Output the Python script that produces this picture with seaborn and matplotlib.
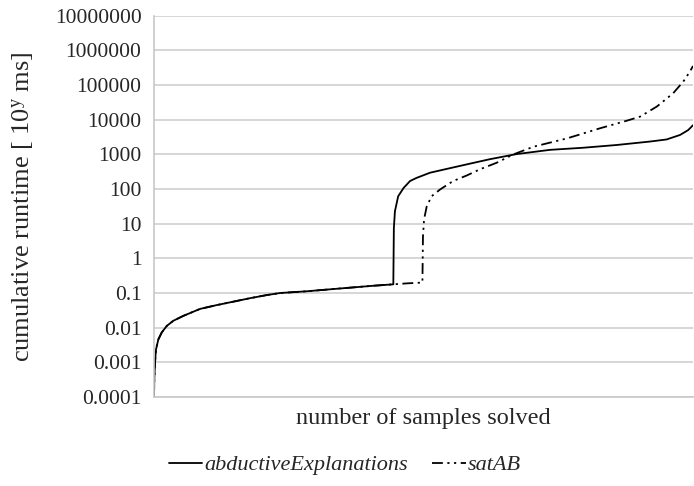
import numpy as np
import pandas as pd
import matplotlib
matplotlib.use("Agg")
import matplotlib.pyplot as plt
from matplotlib.lines import Line2D
import seaborn as sns

# ---- data ----
common_samples = [0, 0.56, 1.86, 3.7, 8.0, 14.3, 23.6, 35.8, 54.4, 85.3, 116, 147,
                  178, 209, 234, 283, 345, 407, 444]
common_runtime = [0.0001, 0.000316, 0.000977, 0.00234, 0.00457, 0.00724, 0.0112,
                  0.0158, 0.0219, 0.0347, 0.0447, 0.0562, 0.0708, 0.0871, 0.1,
                  0.112, 0.135, 0.162, 0.178]

abd_samples = common_samples + [445, 447, 453, 463, 475, 487, 512, 543, 580, 623,
                                673, 735, 796, 858, 920, 951, 976, 991, 1000]
abd_runtime = common_runtime + [7.41, 22.9, 61.7, 107, 170, 209, 295, 380, 513, 724,
                                1020, 1350, 1550, 1860, 2340, 2690, 3630, 5010, 6920]

sat_samples = common_samples + [470, 498, 499, 501, 506, 515, 531, 555, 580, 605,
                                636, 667, 704, 766, 827, 877, 902, 933, 963, 982,
                                994, 1000]
sat_runtime = common_runtime + [0.19, 0.2, 4.27, 13.2, 31.6, 61.7, 97.7, 170, 245,
                                372, 575, 1000, 1660, 2880, 5620, 9330, 12300, 24000,
                                57500, 126000, 240000, 355000]

series_names = ["abductiveExplanations", "satAB"]
y_ticks = [1e-4, 1e-3, 1e-2, 1e-1, 1, 10, 100, 1000, 1e4, 1e5, 1e6, 1e7]
y_tick_labels = ["0.0001", "0.001", "0.01", "0.1", "1", "10", "100", "1000",
                 "10000", "100000", "1000000", "10000000"]

df = pd.concat([
    pd.DataFrame({"sample": abd_samples, "runtime": abd_runtime, "solver": series_names[0]}),
    pd.DataFrame({"sample": sat_samples, "runtime": sat_runtime, "solver": series_names[1]}),
], ignore_index=True)

# ---- style ----
sns.set_style("white")
plt.rcParams["font.family"] = ["Liberation Serif", "DejaVu Serif"]
plt.rcParams["mathtext.fontset"] = "custom"
plt.rcParams["mathtext.rm"] = "Liberation Serif"
plt.rcParams["mathtext.it"] = "Liberation Serif:italic"

fig = plt.figure(figsize=(6.94, 4.86), dpi=100)
ax = fig.add_axes([154 / 694, 1 - 397 / 486, (693 - 154) / 694, (397 - 15.7) / 486])

dash_sat = (6, 2.5, 1.2, 2.5, 1.2, 2.5)
sns.lineplot(data=df, x="sample", y="runtime", hue="solver", style="solver",
             palette={series_names[0]: "black", series_names[1]: "black"},
             dashes={series_names[0]: "", series_names[1]: dash_sat},
             linewidth=1.3, estimator=None, sort=False, legend=False, ax=ax)

ax.set_yscale("log")
ax.set_ylim(1e-4, 1e7)
ax.set_xlim(0, 1000)
ax.yaxis.set_major_locator(matplotlib.ticker.FixedLocator(y_ticks))
ax.yaxis.set_major_formatter(matplotlib.ticker.FixedFormatter(y_tick_labels))
ax.yaxis.set_minor_locator(matplotlib.ticker.NullLocator())
ax.set_xticks([])
ax.tick_params(axis="y", length=0, pad=9, labelsize=15.5)
ax.grid(axis="y", color="#d0d0d0", linewidth=1.2)
ax.set_axisbelow(True)
for s in ["top", "right"]:
    ax.spines[s].set_visible(False)
for s in ["left", "bottom"]:
    ax.spines[s].set_color("#c8c8c8")
    ax.spines[s].set_linewidth(1.2)

ax.set_xlabel("number of samples solved", fontsize=17.5)
ax.xaxis.set_label_coords(0.5, -0.03)
ax.set_ylabel(r"cumulative runtime [ 10$^{\mathrm{y}}$ ms]", fontsize=19)
ax.yaxis.set_label_coords(-0.219, 0.5)

handles = [Line2D([], [], color="black", lw=1.3),
           Line2D([], [], color="black", lw=1.3, dashes=dash_sat)]
fig.legend(handles, series_names, loc="center", bbox_to_anchor=(0.497, 1 - 465 / 486),
           ncol=2, frameon=False, prop={"style": "italic", "size": 16},
           handlelength=1.5, handletextpad=0.1, columnspacing=1.1)

fig.savefig("out.png", dpi=100)
